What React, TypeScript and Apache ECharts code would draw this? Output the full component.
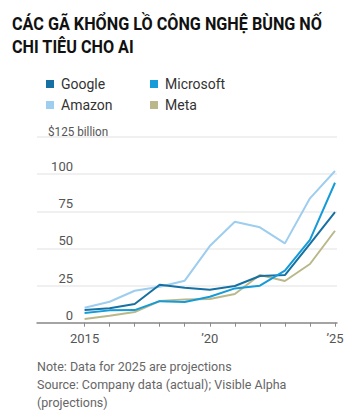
import React, { useEffect, useRef } from "react";
import * as echarts from "echarts";

const years = [2015, 2016, 2017, 2018, 2019, 2020, 2021, 2022, 2023, 2024, 2025];
const google = [8.5, 9.7, 12.6, 25.5, 23.6, 22.2, 24.7, 31.4, 32.1, 53, 74.5];
const microsoft = [6.5, 8.3, 8.5, 14.5, 13.9, 17.5, 23.1, 24.9, 35, 55.7, 94.2];
const amazon = [10.1, 14.1, 21.5, 24.2, 28.3, 51.6, 68, 64.2, 53.4, 83.7, 102.1];
const meta = [2.5, 4.7, 7.2, 14.6, 15.7, 16, 19.3, 32.1, 28.1, 39.5, 61.9];
const yTicks = [0, 25, 50, 75, 100, 125];
const xLabelYears = [2015, 2020, 2025];

const FONT = "Roboto, 'Noto Sans', sans-serif";
const TITLE = "CÁC GÃ KHỔNG LỒ CÔNG NGHỆ BÙNG NỐ\nCHI TIÊU CHO AI";

export default function App() {
  const ref = useRef<HTMLDivElement>(null);
  useEffect(() => {
    document.body.style.margin = "0";
    const chart = echarts.init(ref.current!, undefined, { renderer: "svg" });
    const mk = (name: string, data: number[], color: string) => ({
      name,
      type: "line",
      data: years.map((y, i) => [y, data[i]]),
      symbol: "none",
      lineStyle: { color, width: 2 },
      itemStyle: { color },
    });
    const legendItem = (name: string, left: number, top: number) => ({
      data: [name],
      left,
      top,
      icon: "rect",
      itemWidth: 8,
      itemHeight: 8,
      selectedMode: false,
      textStyle: { fontFamily: FONT, fontSize: 14, color: "#333", padding: [0, 0, 0, 2], lineHeight: 16 },
    });
    chart.setOption({
      animation: false,
      legend: [
        legendItem("Google", 41, 71),
        legendItem("Microsoft", 145, 71),
        legendItem("Amazon", 41, 92),
        legendItem("Meta", 145, 92),
      ],
      grid: { left: 37, right: 19, top: 137, bottom: 96.3 },
      xAxis: {
        type: "value",
        min: 2013.1,
        max: 2025.08,
        splitLine: { show: false },
        axisLine: { show: true, lineStyle: { color: "#8a8a8a", width: 1.5 } },
        axisTick: { show: true, customValues: years, length: 4, lineStyle: { color: "#8a8a8a", width: 1 } },
        axisLabel: {
          customValues: xLabelYears,
          formatter: (v: number) => (v === 2015 ? "2015" : "\u2019" + String(v).slice(2)),
          fontFamily: FONT,
          fontSize: 13,
          color: "#555",
          margin: 9,
        },
      },
      yAxis: {
        type: "value",
        min: 0,
        max: 125,
        interval: 25,
        axisLine: { show: false },
        axisTick: { show: false },
        splitLine: { lineStyle: { color: "#ebebeb", width: 1.5 } },
        axisLabel: {
          inside: true,
          align: "right",
          verticalAlign: "bottom",
          margin: 36,
          padding: [0, 0, 1, 0],
          fontFamily: FONT,
          fontSize: 13,
          color: "#555",
          formatter: (v: number) => (v === 125 ? "" : String(v)),
        },
      },
      graphic: [
        {
          type: "text",
          x: 12,
          y: 12,
          scaleX: 0.9,
          style: {
            text: TITLE,
            font: `bold 18px ${FONT}`,
            fill: "#111",
            lineHeight: 23,
            textVerticalAlign: "top",
          },
        },
        {
          type: "text",
          x: 48,
          y: 125,
          scaleX: 0.9,
          style: { text: "$" + yTicks[5] + " billion", font: `13px ${FONT}`, fill: "#555", textVerticalAlign: "top" },
        },
        {
          type: "text",
          left: 37,
          top: 358,
          style: {
            text: "Note: Data for 2025 are projections\nSource: Company data (actual); Visible Alpha\n(projections)",
            font: `12.5px ${FONT}`,
            fill: "#666",
            lineHeight: 17.8,
          },
        },
      ],
      series: [
        mk("Amazon", amazon, "#9dcdef"),
        mk("Meta", meta, "#bab88a"),
        mk("Google", google, "#1670a2"),
        mk("Microsoft", microsoft, "#149bd8"),
      ],
    });
    return () => chart.dispose();
  }, []);
  return <div ref={ref} style={{ width: 356, height: 419 }} />;
}
